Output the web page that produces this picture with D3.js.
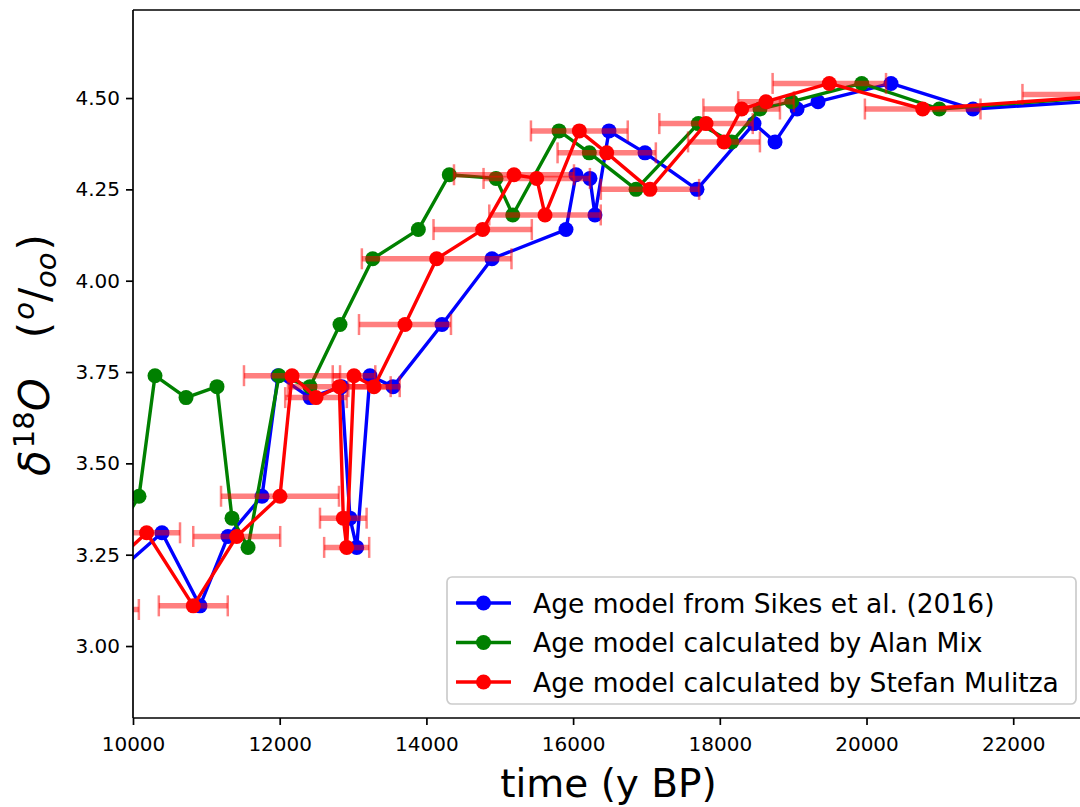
<!DOCTYPE html>
<html>
<head>
<meta charset="utf-8">
<script src="https://cdn.jsdelivr.net/npm/d3@7/dist/d3.min.js"></script>
<style>
  html, body { margin: 0; padding: 0; background: #fff; }
  svg { display: block; font-family: "DejaVu Sans", sans-serif; }
</style>
</head>
<body>
<svg id="chart" width="1080" height="807"></svg>
<script>
// δ18O values of the samples (shared by the three age models)
const d18O = [3.10, 3.31, 3.11, 3.30, 3.41, 3.74, 3.68, 3.71, 3.35, 3.27, 3.74, 3.71, 3.88, 4.06, 4.14,
              4.29, 4.28, 4.18, 4.41, 4.35, 4.25, 4.43, 4.38, 4.47, 4.49, 4.54, 4.47, 4.51];
// Age model from Sikes et al. (2016)
const agesSikes = [9200, 10395, 10913, 11295, 11759, 11977, 12413, 12845, 12958, 13050, 13231, 13545, 14213, 14894, 15903,
                   16039, 16230, 16298, 16489, 16980, 17689, 18466, 18753, 19053, 19339, 20334, 21452, 24540];
// Age model calculated by Alan Mix
const agesMix = [8300, 8800, 9300, 9750, 10082, 10300, 10723, 11145, 11350, 11568, 11990, 12413, 12822, 13268, 13890,
                 14312, 14949, 15177, 15808, 16221, 16858, 17707, 18162, 18548, 18980, 19935, 20992, 23680];
// Age model calculated by Stefan Mulitza
const agesMulitza = [9050, 10186, 10822, 11414, 12004, 12168, 12495, 12813, 12867, 12913, 13013, 13286, 13708, 14140, 14767,
                     15194, 15504, 15617, 16085, 16458, 17048, 17812, 18057, 18298, 18630, 19493, 20766, 23540];
// age uncertainty (years) of the Mulitza model
const errMulitza = [1030, 455, 470, 593, 804, 655, 420, 700, 318, 307, 290, 350, 627, 1020, 670,
                    818, 725, 760, 660, 670, 670, 637, 490, 522, 380, 773, 788, 1414];

const xTicks = [10000, 12000, 14000, 16000, 18000, 20000, 22000];
const yTicks = [3.00, 3.25, 3.50, 3.75, 4.00, 4.25, 4.50];
const seriesNames = ["Age model from Sikes et al. (2016)", "Age model calculated by Alan Mix", "Age model calculated by Stefan Mulitza"];
const seriesColors = ["#0000ff", "#008000", "#ff0000"];

const svg = d3.select("#chart");
const L = 133, T = 10, R = 1084, B = 718;
const x = d3.scaleLinear().domain([10000, 22965]).range([L, R]);
const y = d3.scaleLinear().domain([2.803, 4.741]).range([B, T]);

svg.append("defs").append("clipPath").attr("id", "clip")
  .append("rect").attr("x", L).attr("y", T).attr("width", R - L).attr("height", B - T);

const plot = svg.append("g").attr("clip-path", "url(#clip)");

const series = [agesSikes, agesMix, agesMulitza].map((ages, i) => ({
  name: seriesNames[i], color: seriesColors[i],
  pts: d3.zip(ages, d18O).map(([a, v]) => ({a, v}))
}));

const line = d3.line().x(d => x(d.a)).y(d => y(d.v));

function drawSeries(s) {
  const g = plot.append("g");
  g.append("path").datum(s.pts).attr("d", line)
    .attr("fill", "none").attr("stroke", s.color).attr("stroke-width", 3.4)
    .attr("stroke-linejoin", "round");
  g.selectAll("circle").data(s.pts).join("circle")
    .attr("cx", d => x(d.a)).attr("cy", d => y(d.v)).attr("r", 7.5)
    .attr("fill", s.color);
}

drawSeries(series[0]);
drawSeries(series[1]);

// error bars (Mulitza model)
const errData = d3.zip(agesMulitza, d18O, errMulitza).map(([a, v, e]) => ({a, v, e}));
const eg = plot.append("g").attr("stroke", "rgba(255,0,0,0.5)");
errData.forEach(d => {
  const g = eg.append("g");
  g.append("line").attr("x1", x(d.a - d.e)).attr("x2", x(d.a + d.e))
    .attr("y1", y(d.v)).attr("y2", y(d.v)).attr("stroke-width", 5.5);
  [d.a - d.e, d.a + d.e].forEach(c => {
    g.append("line").attr("x1", x(c)).attr("x2", x(c))
      .attr("y1", y(d.v) - 10.5).attr("y2", y(d.v) + 10.5).attr("stroke-width", 2.5);
  });
});

drawSeries(series[2]);

// axes
const xAxis = svg.append("g").attr("transform", `translate(0,${B})`)
  .call(d3.axisBottom(x).tickValues(xTicks).tickFormat(d3.format("d")).tickSize(7).tickPadding(12));
const yAxis = svg.append("g").attr("transform", `translate(${L},0)`)
  .call(d3.axisLeft(y).tickValues(yTicks).tickFormat(d3.format(".2f")).tickSize(7).tickPadding(6));
[xAxis, yAxis].forEach(a => {
  a.selectAll("text").attr("font-size", 20).attr("font-family", "DejaVu Sans").attr("fill", "#000");
  a.selectAll("line").attr("stroke", "#000").attr("stroke-width", 1.7);
  a.select(".domain").remove();
});
// spines
svg.append("line").attr("x1", L).attr("x2", L).attr("y1", T).attr("y2", B).attr("stroke", "#000").attr("stroke-width", 1.7);
svg.append("line").attr("x1", L).attr("x2", R).attr("y1", B).attr("y2", B).attr("stroke", "#000").attr("stroke-width", 1.7);
svg.append("line").attr("x1", L).attr("x2", R).attr("y1", T).attr("y2", T).attr("stroke", "#000").attr("stroke-width", 1.7);
svg.append("line").attr("x1", R).attr("x2", R).attr("y1", T).attr("y2", B).attr("stroke", "#000").attr("stroke-width", 1.7);

// axis labels
svg.append("text").attr("x", (L + R) / 2).attr("y", 797).attr("text-anchor", "middle")
  .attr("font-size", 39).text("time (y BP)");

const yl = svg.append("text").attr("transform", `translate(49,355) rotate(-90)`)
  .attr("text-anchor", "middle").attr("font-size", 42);
yl.append("tspan").attr("font-style", "italic").text("δ");
yl.append("tspan").attr("font-size", 29).attr("dy", -15).attr("dx", 2).text("18");
yl.append("tspan").attr("font-style", "italic").attr("dy", 15).text("O");
yl.append("tspan").text("\u00A0\u00A0\u00A0(");
yl.append("tspan").attr("font-style", "italic").attr("font-size", 29).attr("dy", -15).attr("dx", 2).text("o");
yl.append("tspan").attr("dy", 15).text("/");
yl.append("tspan").attr("font-style", "italic").attr("font-size", 29).attr("dy", 7).text("oo");
yl.append("tspan").attr("dy", -7).attr("dx", 2).text(")");

// legend
const lg = svg.append("g");
lg.append("rect").attr("x", 447).attr("y", 577).attr("width", 629).attr("height", 127)
  .attr("rx", 5).attr("fill", "rgba(255,255,255,0.8)").attr("stroke", "#cccccc").attr("stroke-width", 1.7);
series.forEach((s, i) => {
  const cy = 603 + i * 39.5;
  lg.append("line").attr("x1", 456).attr("x2", 511).attr("y1", cy).attr("y2", cy)
    .attr("stroke", s.color).attr("stroke-width", 3.4);
  lg.append("circle").attr("cx", 483.5).attr("cy", cy).attr("r", 7.5).attr("fill", s.color);
  lg.append("text").attr("x", 533).attr("y", cy).attr("dy", "0.36em").attr("font-size", 26.5)
    .text(s.name);
});
</script>
</body>
</html>
